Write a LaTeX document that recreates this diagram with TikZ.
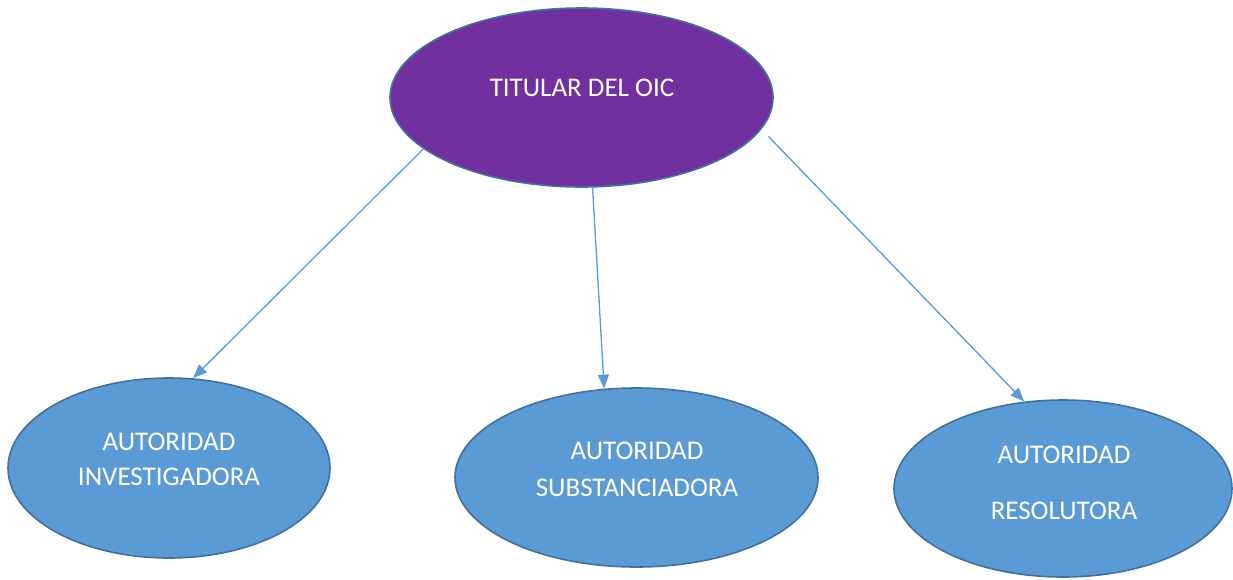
\documentclass[tikz,border=0pt]{standalone}
\usepackage{fontspec}
\setmainfont{Carlito}
\usetikzlibrary{shapes.geometric,arrows.meta}
\definecolor{oicpurple}{HTML}{7030A0}
\definecolor{oicblue}{HTML}{5B9BD5}
\definecolor{oicedge}{HTML}{41719C}
\tikzset{
  blob/.style={ellipse, draw=oicedge, line width=1.6pt, inner sep=0pt},
  lbl/.style={text=white, align=center, font=\fontsize{27}{35}\selectfont, inner sep=0pt},
  conn/.style={draw=oicblue, line width=1.3pt, -{Triangle[length=14pt,width=11pt]}}
}
\begin{document}
\begin{tikzpicture}[x=1pt,y=-1pt]
\useasboundingbox (0,0) rectangle (1233,579);
\node[blob, fill=oicpurple, minimum width=383pt, minimum height=179pt] (tit) at (581.5,97.5) {};
\node[blob, fill=oicblue, minimum width=322pt, minimum height=180pt] (inv) at (169,468) {};
\node[blob, fill=oicblue, minimum width=363pt, minimum height=179pt] (sus) at (636.5,477.5) {};
\node[blob, fill=oicblue, minimum width=338pt, minimum height=177pt] (res) at (1063,488.5) {};
\node[lbl] (titT) at (582,88) {TITULAR DEL OIC};
\node[lbl] (invT) at (169,459.5) {AUTORIDAD\\INVESTIGADORA};
\node[lbl] (susT) at (637,469.5) {AUTORIDAD\\[2pt]SUBSTANCIADORA};
\node[lbl] (resT) at (1064,483) {AUTORIDAD\\[21pt]RESOLUTORA};
\draw[conn] (tit.198) -- (inv.75.4);
\draw[conn] (tit.277.5) -- (sus.110.4);
\draw[conn, shorten <=10pt] (tit.350) -- (res.114);
\end{tikzpicture}
\end{document}
